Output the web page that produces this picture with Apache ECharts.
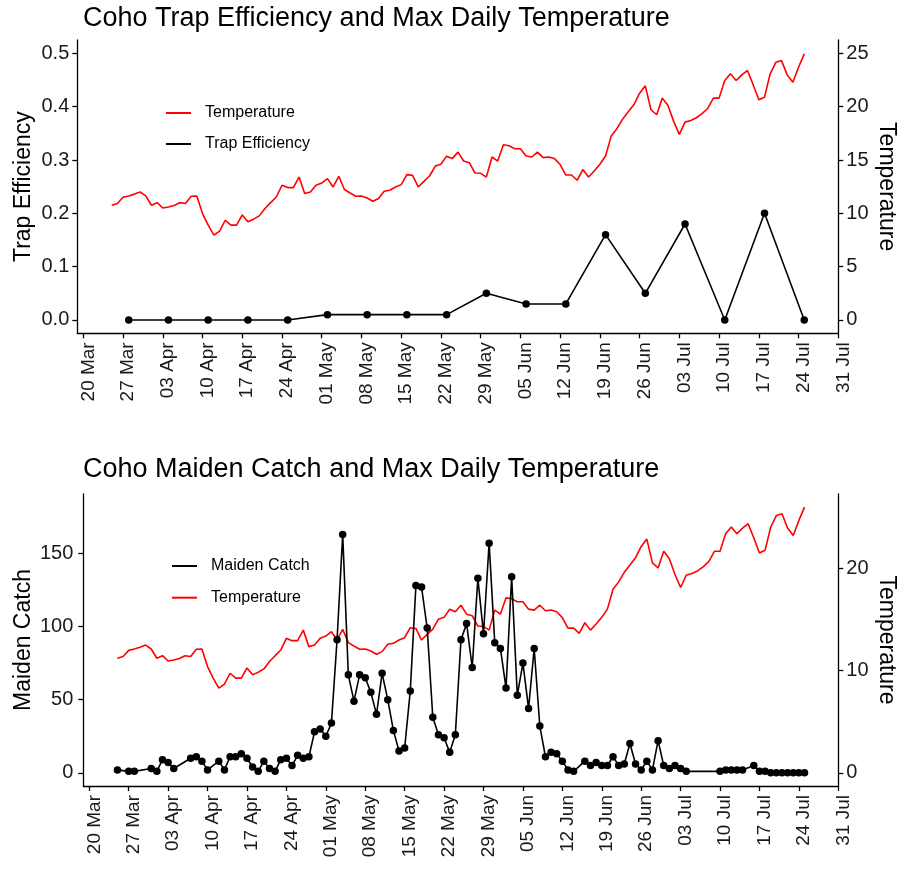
<!DOCTYPE html>
<html>
<head>
<meta charset="utf-8">
<script src="https://cdn.jsdelivr.net/npm/echarts@6/dist/echarts.min.js"></script>
<style>
html, body { margin: 0; padding: 0; background: #ffffff; }
#chart { width: 898px; height: 871px; }
</style>
</head>
<body>
<div id="chart"></div>
<script>
// Weekly date breaks on the x axis (20 Mar .. 31 Jul)
const weekLabels = ['20 Mar', '27 Mar', '03 Apr', '10 Apr', '17 Apr', '24 Apr', '01 May', '08 May',
  '15 May', '22 May', '29 May', '05 Jun', '12 Jun', '19 Jun', '26 Jun', '03 Jul', '10 Jul',
  '17 Jul', '24 Jul', '31 Jul'];

// Daily max water temperature (deg C), one value per day starting 25 Mar
const tempStart = '03-25';
const maxTemp = [
  10.76, 10.92, 11.5, 11.63, 11.8, 12.0, 11.63, 10.76, 11.0, 10.5,
  10.6, 10.73, 11.0, 10.92, 11.6, 11.63, 9.98, 8.89, 7.95, 8.33,
  9.35, 8.89, 8.89, 9.85, 9.2, 9.45, 9.76, 10.45, 11.0, 11.53,
  12.63, 12.41, 12.41, 13.4, 11.85, 12.0, 12.63, 12.84, 13.25, 12.47,
  13.47, 12.23, 11.91, 11.6, 11.63, 11.44, 11.13, 11.38, 12.07, 12.16,
  12.47, 12.69, 13.63, 13.56, 12.47, 13.0, 13.5, 14.43, 14.6, 15.36,
  15.13, 15.74, 14.9, 14.75, 13.78, 13.75, 13.4, 15.28, 14.9, 16.43,
  16.34, 16.06, 16.06, 15.37, 15.28, 15.74, 15.22, 15.28, 15.13, 14.57,
  13.59, 13.59, 13.1, 14.1, 13.4, 13.97, 14.6, 15.37, 17.24, 17.93,
  18.83, 19.52, 20.2, 21.26, 21.95, 19.71, 19.24, 20.8, 20.11, 18.62,
  17.4, 18.55, 18.71, 18.96, 19.34, 19.83, 20.8, 20.8, 22.45, 23.08,
  22.45, 22.98, 23.39, 22.05, 20.65, 20.89, 23.08, 24.16, 24.32, 22.98,
  22.29, 23.7, 24.95
];

// Weekly trap efficiency estimates
const trapDates = ['03-28', '04-04', '04-11', '04-18', '04-25', '05-02', '05-09', '05-16', '05-23',
  '05-30', '06-06', '06-13', '06-20', '06-27', '07-04', '07-11', '07-18', '07-25'];
const trapEfficiency = [0, 0, 0, 0, 0, 0.01, 0.01, 0.01, 0.01,
  0.05, 0.03, 0.03, 0.16, 0.05, 0.18, 0, 0.20, 0];

// Daily coho maiden catch starting 25 Mar (null = trap not fished)
const catchStart = '03-25';
const maidenCatch = [
  2, null, 1, 1, null, null, 3, 1, 9, 7,
  3, null, null, 10, 11, 8, 2, null, 8, 2,
  11, 11, 13, 10, 4, 1, 8, 3, 1, 9,
  10, 5, 12, 10, 11, 28, 30, 25, 34, 91,
  163, 67, 49, 67, 65, 55, 40, 68, 50, 29,
  15, 17, 56, 128, 127, 99, 38, 26, 24, 14,
  26, 91, 102, 72, 133, 95, 157, 89, 85, 58,
  134, 53, 75, 44, 85, 32, 11, 14, 13, 8,
  2, 1, null, 8, 5, 7, 5, 5, 11, 5,
  6, 20, 6, 2, 8, 2, 22, 5, 3, 5,
  3, 1, null, null, null, null, null, 1, 2, 2,
  2, 2, null, 5, 1, 1, 0, 0, 0, 0,
  0, 0, 0
];

// Axis break values
const effTicks = [0, 0.1, 0.2, 0.3, 0.4, 0.5];
const topTempTicks = [0, 5, 10, 15, 20, 25];
const catchTicks = [0, 50, 100, 150];
const bottomTempTicks = [0, 10, 20];

// Temperature is drawn on the catch scale in the lower panel; the secondary axis divides by 7
const CATCH_PER_DEGREE = 7.28;
const SEC_AXIS_DIVISOR = 7;

// ---- helpers ----
const SEASON_ORIGIN = Date.UTC(2021, 2, 20);
function dayOf(mmdd) {
  const [m, d] = mmdd.split('-').map(Number);
  return (Date.UTC(2021, m - 1, d) - SEASON_ORIGIN) / 86400000;
}
const weekTicks = weekLabels.map((_, i) => i * 7);
const X_MIN = -1.06, X_MAX = 133;

const FONT = 'Liberation Sans, Arial, Helvetica, sans-serif';
const INK = '#000000';
const TEXT = '#1a1a1a';

const tempTop = maxTemp.map((t, i) => [dayOf(tempStart) + i, t]);
const tempBottom = maxTemp.map((t, i) => [dayOf(tempStart) + i, t * CATCH_PER_DEGREE]);
const trapSeries = trapDates.map((d, i) => [dayOf(d), trapEfficiency[i]]);
const catchSeries = maidenCatch.map((c, i) => [dayOf(catchStart) + i, c]);

function xAxisFor(gridIndex) {
  return {
    type: 'value', gridIndex, min: X_MIN, max: X_MAX,
    axisLine: { show: true, onZero: false, lineStyle: { color: INK, width: 1.3 } },
    axisTick: { show: true, length: 5, customValues: weekTicks, lineStyle: { color: INK, width: 1.3 } },
    axisLabel: {
      customValues: weekTicks, rotate: 90, margin: 9,
      fontSize: 19, fontFamily: FONT, color: TEXT,
      verticalAlign: 'top', lineHeight: 10,
      formatter: v => weekLabels[Math.round(v / 7)]
    },
    splitLine: { show: false }
  };
}

function yAxisFor(gridIndex, position, min, max, ticks, name, nameGap, nameRotate, fmt, margin) {
  return {
    type: 'value', gridIndex, position, min, max,
    name, nameLocation: 'middle', nameGap, nameRotate, nameMoveOverlap: false,
    nameTextStyle: { fontSize: 23, fontFamily: FONT, color: INK },
    axisLine: { show: true, onZero: false, lineStyle: { color: INK, width: 1.3 } },
    axisTick: { show: true, length: 5, customValues: ticks, lineStyle: { color: INK, width: 1.3 } },
    axisLabel: { customValues: ticks, fontSize: 20, fontFamily: FONT, color: TEXT, margin, formatter: fmt },
    splitLine: { show: false }
  };
}

const legendText = { fontSize: 16, fontFamily: FONT, color: INK, padding: [0, 0, 0, 9], lineHeight: 18 };

const option = {
  animation: false,
  backgroundColor: '#ffffff',
  title: [
    { text: 'Coho Trap Efficiency and Max Daily Temperature', left: 78, top: 0,
      textStyle: { fontSize: 27, fontWeight: 'normal', fontFamily: FONT, color: INK } },
    { text: 'Coho Maiden Catch and Max Daily Temperature', left: 78, top: 451,
      textStyle: { fontSize: 27, fontWeight: 'normal', fontFamily: FONT, color: INK } }
  ],
  legend: [
    { orient: 'vertical', left: 166, top: 104, padding: 0, itemWidth: 25, itemHeight: 2, itemGap: 13,
      icon: 'rect', data: ['Temperature', 'Trap Efficiency'], textStyle: legendText, selectedMode: false },
    { orient: 'vertical', left: 172, top: 557, padding: 0, itemWidth: 25, itemHeight: 2, itemGap: 13.7,
      icon: 'rect', data: ['Maiden Catch', 'Temperature'], textStyle: legendText, selectedMode: false }
  ],
  grid: [
    { left: 77.3, right: 59.7, top: 40, height: 293.3, outerBoundsMode: 'none' },
    { left: 83.3, right: 59.7, top: 494, height: 292, outerBoundsMode: 'none' }
  ],
  xAxis: [xAxisFor(0), xAxisFor(1)],
  yAxis: [
    yAxisFor(0, 'left', -0.025, 0.525, effTicks, 'Trap Efficiency', 42, 90, v => v.toFixed(1), 8),
    yAxisFor(0, 'right', -1.25, 26.25, topTempTicks, 'Temperature', 37, -90, v => String(v), 8),
    yAxisFor(1, 'left', -9, 190.6, catchTicks, 'Maiden Catch', 48, 90, v => String(v), 10),
    yAxisFor(1, 'right', -9 / SEC_AXIS_DIVISOR, 190.6 / SEC_AXIS_DIVISOR, bottomTempTicks, 'Temperature', 37, -90, v => String(v), 8)
  ],
  series: [
    { name: 'Temperature', type: 'line', xAxisIndex: 0, yAxisIndex: 1, data: tempTop,
      showSymbol: false, symbol: 'none', color: '#ff0000', lineStyle: { color: '#ff0000', width: 1.6 } },
    { name: 'Trap Efficiency', type: 'line', xAxisIndex: 0, yAxisIndex: 0, data: trapSeries,
      symbol: 'circle', symbolSize: 7.5, color: '#000000',
      itemStyle: { color: '#000000' }, lineStyle: { color: '#000000', width: 1.6 } },
    { name: 'Temperature', type: 'line', xAxisIndex: 1, yAxisIndex: 2, data: tempBottom,
      showSymbol: false, symbol: 'none', color: '#ff0000', lineStyle: { color: '#ff0000', width: 1.6 } },
    { name: 'Maiden Catch', type: 'line', xAxisIndex: 1, yAxisIndex: 2, data: catchSeries,
      connectNulls: true, symbol: 'circle', symbolSize: 7.5, color: '#000000',
      itemStyle: { color: '#000000' }, lineStyle: { color: '#000000', width: 1.6 } }
  ]
};

const chart = echarts.init(document.getElementById('chart'), null, { renderer: 'canvas' });
chart.setOption(option);
</script>
</body>
</html>
